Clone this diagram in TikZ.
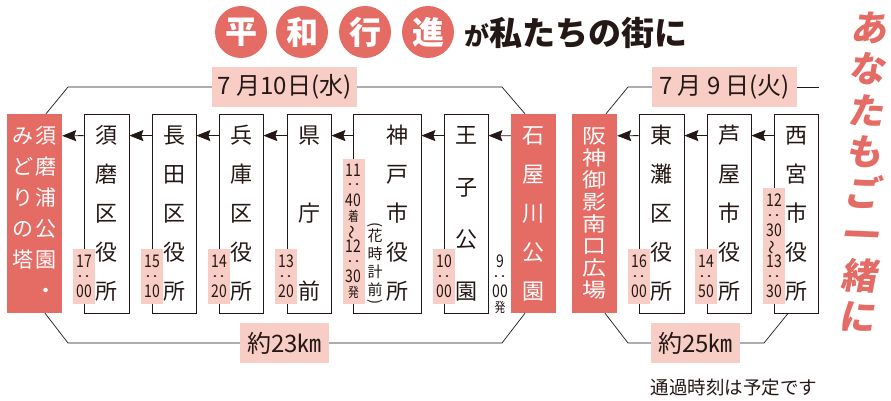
\documentclass[tikz,border=0pt]{standalone}
\usepackage{fontspec}
\setmainfont{Noto Sans CJK JP}
\newfontfamily\timefont[FakeStretch=0.8]{Noto Sans CJK JP}
\newfontfamily\wideboxfont[FakeStretch=1.2]{Noto Sans CJK JP}
\newfontfamily\slantfont[FakeSlant=0.15]{Noto Sans CJK JP}
\usetikzlibrary{positioning, arrows.meta, calc}

\definecolor{inkgray}{HTML}{231815}
\definecolor{marchred}{HTML}{E56B65}
\definecolor{timepink}{HTML}{F8CDC5}

\newcommand{\tmcolon}{\raisebox{2pt}{\rotatebox[origin=c]{90}{:}}}
\newcommand{\tmtilde}{\rotatebox[origin=c]{90}{～}}
\newcommand{\tmkanji}[1]{{\fontsize{13.5}{15}\selectfont #1}}

\tikzset{
	station/.style={rectangle, draw=inkgray, line width=0.8pt, fill=white, text=inkgray,
		minimum width=45pt, minimum height=199pt, inner sep=0pt, align=center,
		font=\fontsize{22}{39}\selectfont},
	goal/.style={rectangle, fill=marchred, text=white, minimum width=45pt,
		minimum height=199pt, inner sep=0pt, align=center, font=\fontsize{22}{39}\selectfont},
	timetag/.style={rectangle, fill=timepink, text=inkgray, minimum width=22pt,
		inner sep=0pt, align=center, font=\timefont\fontsize{17.5}{15}\selectfont},
	datetag/.style={rectangle, fill=timepink, text=inkgray, minimum width=145pt,
		minimum height=40pt, inner sep=0pt, font=\fontsize{24}{24}\selectfont},
	walk/.style={-{Stealth[length=14pt, width=11pt, inset=2pt]}, draw=inkgray, line width=0.8pt},
	route/.style={draw=inkgray, line width=0.7pt},
	titledot/.style={circle, fill=marchred, text=white, minimum size=52pt, inner sep=0pt,
		font=\bfseries\fontsize{32}{32}\selectfont}
}

\begin{document}
\begin{tikzpicture}[x=1pt, y=-1pt]
		
		\useasboundingbox (0,0) rectangle (891,401);
		
		%Title
		\node (heiwa1) at (241,32) [titledot]{平};
		\node (heiwa2) at (302,32) [titledot]{和};
		\node (heiwa3) at (365,32) [titledot]{行};
		\node (heiwa4) at (428,32) [titledot]{進};
		\node (headline) at (464,33) [anchor=west, inner sep=0pt, text=inkgray,
		font=\bfseries\fontsize{33}{33}\selectfont]{{\fontsize{25}{25}\selectfont が}私たちの街に};
		
		%Nodes, 7/10
		\node (sumaura) at (34.5,213.5) [goal, minimum width=55pt, font=\fontsize{21}{31}\selectfont]
		{み\hspace{2pt}須\\ど\hspace{2pt}磨\\り\hspace{2pt}浦\\の\hspace{2pt}公\\塔\hspace{2pt}園\\
		\phantom{塔}\hspace{2pt}・};
		\node (suma) at (106.5,213.5) [station]{須\\磨\\区\\役\\所};
		\node (nagata) at (174,213.5) [station, minimum width=44pt]{長\\田\\区\\役\\所};
		\node (hyogo) at (241,213.5) [station, minimum width=44pt]{兵\\庫\\区\\役\\所};
		\node (kencho) at (309,213.5) [station, minimum width=44pt]{県\\[39pt]庁\\[39pt]前};
		\node (kobe) at (387,213.5) [station, minimum width=68pt]{};
		\node (kobename) at (397,213.5) [text=inkgray, inner sep=0pt, align=center,
		font=\fontsize{22}{39}\selectfont]{神\\戸\\市\\役\\所};
		\node (hanadokei) at (375,263) [text=inkgray, inner sep=0pt, align=center,
		font=\fontsize{15}{18}\selectfont]{花\\時\\計\\前};
		\node (parenopen) at (375,225) [rotate=-90, text=inkgray, inner sep=0pt,
		font=\fontsize{15}{15}\selectfont]{(};
		\node (parenclose) at (375,302) [rotate=-90, text=inkgray, inner sep=0pt,
		font=\fontsize{15}{15}\selectfont]{)};
		\node (oji) at (466,213.5) [station, minimum width=44pt]{王\\[13pt]子\\[13pt]公\\[13pt]園};
		\node (ishiya) at (533.5,213.5) [goal]{石\\屋\\川\\公\\園};
		
		%Nodes, 7/9
		\node (mikage) at (594.5,213.5) [goal, font=\wideboxfont\fontsize{20}{22}\selectfont]
		{阪\\神\\御\\影\\南\\口\\広\\場};
		\node (higashinada) at (661.5,213.5) [station]{東\\灘\\区\\役\\所};
		\node (ashiya) at (729,213.5) [station, minimum width=44pt]{芦\\屋\\市\\役\\所};
		\node (nishinomiya) at (796,213.5) [station, minimum width=44pt]{西\\宮\\市\\役\\所};
		
		%Times
		\node (tsuma) at (84,276.5) [timetag, minimum height=55pt]{17\\\tmcolon\\00};
		\node (tnagata) at (152,276.5) [timetag, minimum height=55pt]{15\\\tmcolon\\10};
		\node (thyogo) at (219,276.5) [timetag, minimum height=55pt]{14\\\tmcolon\\20};
		\node (tkencho) at (286,276.5) [timetag, minimum height=55pt]{13\\\tmcolon\\20};
		\node (tkobe) at (353.5,231.5) [timetag, minimum height=145pt]
		{11\\\tmcolon\\40\\\tmkanji{着}\\\tmtilde\\12\\\tmcolon\\30\\\tmkanji{発}};
		\node (toji) at (444,276.5) [timetag, minimum height=55pt]{10\\\tmcolon\\00};
		\node (tstart) at (500,284.5) [timetag, fill=none]{9\\\tmcolon\\00\\\tmkanji{発}};
		\node (thigashinada) at (639,276.5) [timetag, minimum height=55pt]{16\\\tmcolon\\00};
		\node (tashiya) at (706,276.5) [timetag, minimum height=55pt]{14\\\tmcolon\\50};
		\node (tnishinomiya) at (774,246) [timetag, minimum height=116pt]
		{12\\\tmcolon\\30\\\tmtilde\\13\\\tmcolon\\30};
		
		%Dates and distances
		\node (date10) at (284.5,87) [datetag]{7 月10日(水)};
		\node (date9) at (724.5,87) [datetag]{7 月 9 日(火)};
		\node (dist23) at (284.5,343) [datetag, minimum width=89pt]{約23㎞};
		\node (dist25) at (695.5,343) [datetag, minimum width=89pt]{約25㎞};
		\coordinate (date9end) at (819,87);
		
		%Side text
		\node (slogan) at (863,172) [rotate=-2.4, text=marchred, align=center, inner sep=0pt,
		font=\slantfont\bfseries\fontsize{36}{41.4}\selectfont]{あ\\な\\た\\も\\ご\\一\\緒\\に};
		\node (note) at (734,388) [text=inkgray, inner sep=0pt,
		font=\fontsize{18.5}{18.5}\selectfont]{通過時刻は予定です};
		
		%Links
		\draw[walk] ([yshift=-22pt]suma.north west) -- ([yshift=-22pt]sumaura.north east);
		\draw[walk] ([yshift=-22pt]nagata.north west) -- ([yshift=-22pt]suma.north east);
		\draw[walk] ([yshift=-22pt]hyogo.north west) -- ([yshift=-22pt]nagata.north east);
		\draw[walk] ([yshift=-22pt]kencho.north west) -- ([yshift=-22pt]hyogo.north east);
		\draw[walk] ([yshift=-22pt]kobe.north west) -- ([yshift=-22pt]kencho.north east);
		\draw[walk] ([yshift=-22pt]oji.north west) -- ([yshift=-22pt]kobe.north east);
		\draw[walk] ([yshift=-22pt]ishiya.north west) -- ([yshift=-22pt]oji.north east);
		\draw[walk] ([yshift=-22pt]higashinada.north west) -- ([yshift=-22pt]mikage.north east);
		\draw[walk] ([yshift=-22pt]ashiya.north west) -- ([yshift=-22pt]higashinada.north east);
		\draw[walk] ([yshift=-22pt]nishinomiya.north west) -- ([yshift=-22pt]ashiya.north east);
		
		\draw[route] (date10.west) -- (68,87) -- ([xshift=11.5pt]sumaura.north);
		\draw[route] (date10.east) -- (502,87) -- ([xshift=-8.5pt]ishiya.north);
		\draw[route] (dist23.west) -- (68,343) -- ([xshift=10.5pt]sumaura.south);
		\draw[route] (dist23.east) -- (502,343) -- ([xshift=-8.5pt]ishiya.south);
		\draw[route] (date9.west) -- (628,87) -- ([xshift=11.5pt]mikage.north);
		\draw[route] (date9.east) -- (date9end);
		\draw[route] (dist25.west) -- (628,343) -- ([xshift=10.5pt]mikage.south);
		\draw[route] (dist25.east) -- (764,343) -- ([xshift=-8pt]nishinomiya.south);
		
\end{tikzpicture}
\end{document}
